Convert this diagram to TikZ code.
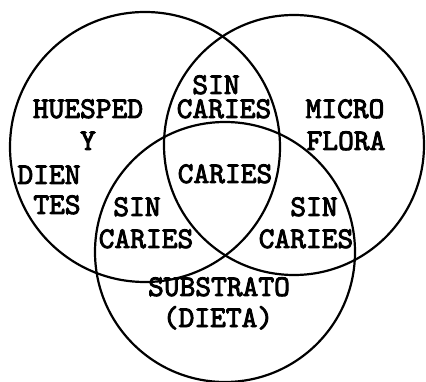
\documentclass[tikz,border=0pt]{standalone}
\usepackage{fontspec}
\newfontfamily\tw{lmmono10-regular.otf}[AutoFakeBold=3]
\begin{document}
\begin{tikzpicture}[x=1pt,y=-1pt,
  ring/.style={draw=black,line width=2.2pt},
  lbl/.style={inner sep=0pt,anchor=base,font=\tw\bfseries\fontsize{30}{34}\selectfont}]
\useasboundingbox (0,0) rectangle (426,382);
\fill[white] (0,0) rectangle (426,382);
\node[ring,circle,minimum size=270pt,inner sep=0pt] (host) at (145,147) {};
\node[ring,circle,minimum size=260pt,inner sep=0pt] (micro) at (294,145) {};
\node[ring,circle,minimum size=260pt,inner sep=0pt] (sub) at (225,252) {};
\node[lbl] (h1) at (88,118) {HUESPED};
\node[lbl] (h2) at (88,150) {Y};
\node[lbl] (h3) at (49,184) {DIEN};
\node[lbl] (h4) at (57,214) {TES};
\node[lbl] (a1) at (216,94) {SIN};
\node[lbl] (a2) at (224,118) {CARIES};
\node[lbl] (c1) at (225,183) {CARIES};
\node[lbl] (m1) at (345,118) {MICRO};
\node[lbl] (m2) at (346,150) {FLORA};
\node[lbl] (b1) at (137,216) {SIN};
\node[lbl] (b2) at (146,248) {CARIES};
\node[lbl] (d1) at (314,216) {SIN};
\node[lbl] (d2) at (306,248) {CARIES};
\node[lbl] (s1) at (219,296) {SUBSTRATO};
\node[lbl] (s2) at (218,327) {(DIETA)};
\end{tikzpicture}
\end{document}
